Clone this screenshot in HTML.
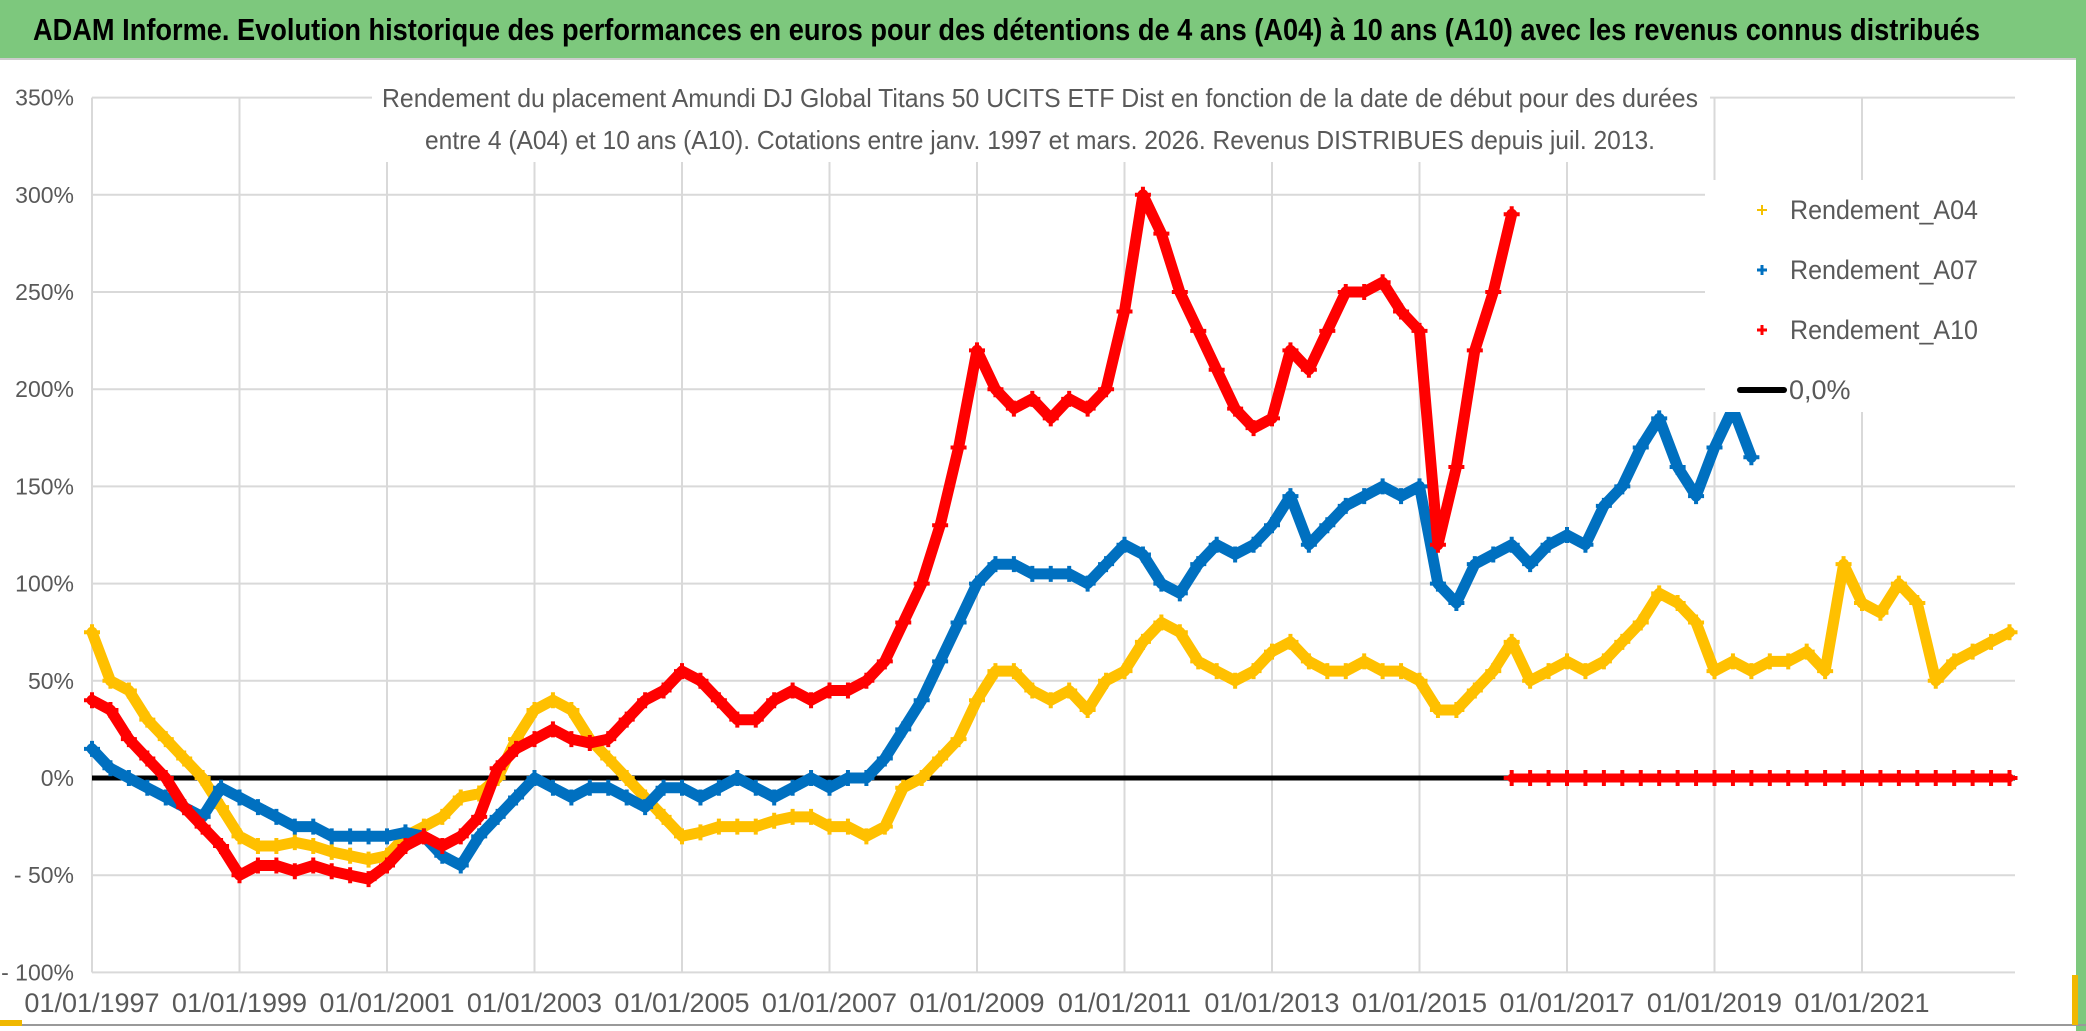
<!DOCTYPE html>
<html><head><meta charset="utf-8">
<style>
html,body{margin:0;padding:0;background:#fff;}
svg{display:block;font-family:"Liberation Sans Narrow","Liberation Sans",sans-serif;}
</style></head>
<body>
<svg id="chart" width="2086" height="1031" viewBox="0 0 2086 1031">
  <rect x="0" y="0" width="2086" height="1031" fill="#fff"/>
  <rect x="0" y="0" width="2086" height="58" fill="#7dc87d"/>
  <line x1="0" y1="59" x2="2086" y2="59" fill="none" stroke="#ccc" stroke-width="2"/>
  <rect x="2076" y="0" width="10" height="1031" fill="#7dc87d"/>
  <rect x="0" y="1024" width="2086" height="2" fill="#999"/>
  <rect x="0" y="1020" width="22" height="6" fill="#f0b800"/>
  <rect x="2072" y="975" width="6" height="50" fill="#f0b800"/>
  <text x="33" y="40" font-size="31" font-weight="bold" fill="#000" textLength="1947" lengthAdjust="spacingAndGlyphs">ADAM Informe. Evolution historique des performances en euros pour des détentions de 4 ans (A04) à 10 ans (A10) avec les revenus connus distribués</text>
  <g id="grid"></g>
  <g id="axes"></g>
  <g id="series"></g>
  <rect x="372" y="72" width="1338" height="90" fill="#fff"/>
  <text x="1040" y="107" font-size="26" fill="#595959" text-anchor="middle" textLength="1316" lengthAdjust="spacingAndGlyphs">Rendement du placement Amundi DJ Global Titans 50 UCITS ETF Dist en fonction de la date de début pour des durées</text>
  <text x="1040" y="149" font-size="26" fill="#595959" text-anchor="middle" textLength="1230" lengthAdjust="spacingAndGlyphs">entre 4 (A04) et 10 ans (A10). Cotations entre janv. 1997 et mars. 2026. Revenus DISTRIBUES depuis juil. 2013.</text>
  <g>
    <rect x="1705" y="180" width="312" height="232" fill="#fff"/>
    <g>
      <path d="M1757 210h10M1762 205v10" stroke="#f5c000" stroke-width="2"/>
      <text x="1790" y="219" font-size="27" fill="#595959" textLength="188" lengthAdjust="spacingAndGlyphs">Rendement_A04</text>
    </g>
    <g>
      <path d="M1757 270h10M1762 265v10" stroke="#0070c0" stroke-width="3"/>
      <text x="1790" y="279" font-size="27" fill="#595959" textLength="188" lengthAdjust="spacingAndGlyphs">Rendement_A07</text>
    </g>
    <g>
      <path d="M1757 330h10M1762 325v10" stroke="#ff0000" stroke-width="3"/>
      <text x="1790" y="339" font-size="27" fill="#595959" textLength="188" lengthAdjust="spacingAndGlyphs">Rendement_A10</text>
    </g>
    <g>
      <line x1="1740" y1="390" x2="1784" y2="390" stroke="#000" stroke-width="6" stroke-linecap="round"/>
      <text x="1789" y="399" font-size="27" fill="#595959">0,0%</text>
    </g>
  </g>
</svg>
<script>
const yTicks = [350,300,250,200,150,100,50,0,-50,-100];
const yTickLabels = ["350%","300%","250%","200%","150%","100%","50%","0%","- 50%","- 100%"];
const xTickYears = [1997,1999,2001,2003,2005,2007,2009,2011,2013,2015,2017,2019,2021];
const xTickLabels = ["01/01/1997","01/01/1999","01/01/2001","01/01/2003","01/01/2005","01/01/2007","01/01/2009","01/01/2011","01/01/2013","01/01/2015","01/01/2017","01/01/2019","01/01/2021"];
// quarterly values starting 1997.0
const a04 = [75,50,45,30, 20,10,0,-15, -30,-35,-35,-33, -35,-38,-40,-42, -40,-30,-25,-20, -10,-8,0,20, 35,40,35,20, 10,0,-10,-20, -30,-28,-25,-25, -25,-22,-20,-20, -25,-25,-30,-25, -5,0,10,20, 40,55,55,45, 40,45,35,50, 55,70,80,75, 60,55,50,55, 65,70,60,55, 55,60,55,55, 50,35,35,45, 55,70,50,55, 60,55,60,70, 80,95,90,80, 55,60,55,60, 60,65,55,110, 90,85,100,90, 50,60,65,70, 75];
const a07 = [15,5,0,-5, -10,-15,-20,-5, -10,-15,-20,-25, -25,-30,-30,-30, -30,-28,-30,-40, -45,-30,-20,-10, 0,-5,-10,-5, -5,-10,-15,-5, -5,-10,-5,0, -5,-10,-5,0, -5,0,0,10, 25,40,60,80, 100,110,110,105, 105,105,100,110, 120,115,100,95, 110,120,115,120, 130,145,120,130, 140,145,150,145, 150,100,90,110, 115,120,110,120, 125,120,140,150, 170,185,160,145, 170,190,165];
const a10 = [40,35,20,10, 0,-15,-25,-35, -50,-45,-45,-48, -45,-48,-50,-52, -45,-35,-30,-35, -30,-20,5,15, 20,25,20,18, 20,30,40,45, 55,50,40,30, 30,40,45,40, 45,45,50,60, 80,100,130,170, 220,200,190,195, 185,195,190,200, 240,300,280,250, 230,210,190,180, 185,220,210,230, 250,250,255,240, 230,120,160,220, 250,290];
const a10Zero = [0,0,0,0,0,0,0,0,0,0,0,0,0,0,0,0,0,0,0,0,0,0,0,0,0,0,0,0];
const startYear = 1997, a10ZeroStart = 2016.25, step = 0.25;

const NS = "http://www.w3.org/2000/svg";
const X0 = 92, PXY = 73.75, Y0 = 778, PXPCT = 97.2/50, XR = 2015;
const xs = t => X0 + (t - startYear) * PXY;
const ys = v => Y0 - v * PXPCT;
function mk(tag, attrs, parent){const e=document.createElementNS(NS,tag);for(const k in attrs)e.setAttribute(k,attrs[k]);parent.appendChild(e);return e;}
const grid = document.getElementById('grid'), axes = document.getElementById('axes'), ser = document.getElementById('series');

yTicks.forEach((v,i)=>{
  const l = mk('line',{x1:X0,x2:XR,y1:ys(v),y2:ys(v),stroke:'#d9d9d9','stroke-width':2},grid);
  
  
  const t = mk('text',{x:74,y:ys(v)+8,'font-size':23,fill:'#595959','text-anchor':'end'},axes);
  t.textContent = yTickLabels[i];
  
  
});
for(let yr=1997; yr<=2021; yr+=2){
  const l = mk('line',{x1:xs(yr),x2:xs(yr),y1:ys(350),y2:ys(-100),stroke:'#d9d9d9','stroke-width':2},grid);
  
  
}
xTickYears.forEach((yr,i)=>{
  const t = mk('text',{x:xs(yr),y:1012,'font-size':27,fill:'#595959','text-anchor':'middle'},axes);
  t.textContent = xTickLabels[i];
  
  
});
const zl = mk('line',{x1:X0,x2:XR,y1:ys(0),y2:ys(0),stroke:'#000','stroke-width':5},ser);



function drawSeries(vals, start, color, name, lw){
  const g = mk('g',{},ser);
  
  
  const pts = vals.map((v,i)=>xs(start+i*step).toFixed(1)+','+ys(v).toFixed(1)).join(' ');
  mk('polyline',{points:pts,fill:'none',stroke:color,'stroke-width':lw,'stroke-linejoin':'round','stroke-linecap':'round'},g);
  vals.forEach((v,i)=>{
    const x = xs(start+i*step), y = ys(v);
    const p = mk('path',{d:`M${x-8} ${y}h16M${x} ${y-8}v16`,stroke:color,'stroke-width':4},g);
    
    
  });
}
drawSeries(a04, startYear, '#ffc000', 'series-a04', 11);
drawSeries(a07, startYear, '#0070c0', 'series-a07', 11);
drawSeries(a10, startYear, '#ff0000', 'series-a10', 11);
drawSeries(a10Zero, a10ZeroStart, '#ff0000', 'series-a10-zero', 9);
</script>
</body></html>
